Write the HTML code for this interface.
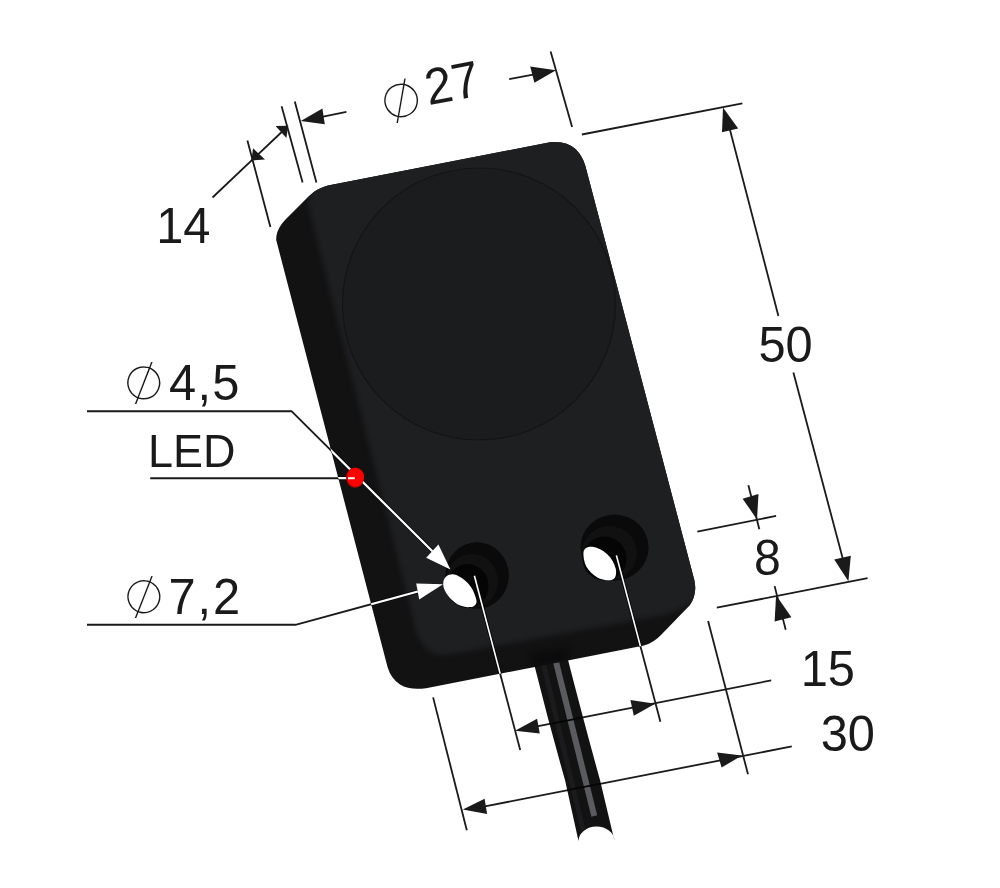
<!DOCTYPE html>
<html lang="en">
<head>
<meta charset="utf-8">
<title>Sensor dimensions</title>
<style>
html,body{margin:0;padding:0;background:#fff;}
body{width:1000px;height:888px;overflow:hidden;}
svg{display:block;}
text{font-family:"Liberation Sans",Arial,sans-serif;fill:#1a1a1a;}
text.dia{font-family:"DejaVu Sans","Liberation Sans",sans-serif;}
</style>
</head>
<body>
<svg width="1000" height="888" viewBox="0 0 1000 888">
<defs>
<path id="bodyshape" d="M276.2,240 Q276,232 281,225 Q283,222 286,219 L309,196 Q317,188.5 328,185.6 L550,142.3 Q566,140.5 575.5,149 Q582.5,156 585.4,166 L694.3,580 Q697.5,594 690,605 L661,635 Q654,642.5 644,645.6 L426,688.2 Q410,690.5 400,684.5 Q391,678.5 387.6,667.2 Z"/>
<clipPath id="bodyclip"><use href="#bodyshape"/></clipPath>
<clipPath id="cableclip"><path d="M534,664 L566.5,655 L568.3,661 Q585,726 600,780 L614.5,841 A18,14.6 0 0 0 578.5,841 L565,780 Q549,724 534.9,667.3 Z"/></clipPath>
<filter color-interpolation-filters="sRGB" id="soft" x="-10%" y="-10%" width="120%" height="120%"><feGaussianBlur stdDeviation="1.2"/></filter>
<filter color-interpolation-filters="sRGB" id="soft3" x="-30%" y="-30%" width="160%" height="160%"><feGaussianBlur stdDeviation="3"/></filter>
<filter color-interpolation-filters="sRGB" id="soft4" x="-10%" y="-10%" width="120%" height="120%"><feGaussianBlur stdDeviation="2.6"/></filter>
<filter color-interpolation-filters="sRGB" id="soft2" x="-20%" y="-20%" width="140%" height="140%"><feGaussianBlur stdDeviation="0.6"/></filter>
</defs>
<rect width="1000" height="888" fill="#ffffff"/>
<g id="dims">
<line x1="247.4" y1="140.4" x2="270.4" y2="227.0" stroke="#1a1a1a" stroke-width="1.8" />
<line x1="281.6" y1="106.2" x2="302.6" y2="182.5" stroke="#1a1a1a" stroke-width="1.8" />
<line x1="294.8" y1="101.4" x2="316.4" y2="182.5" stroke="#1a1a1a" stroke-width="1.8" />
<line x1="212.5" y1="197.5" x2="287.0" y2="127.0" stroke="#1a1a1a" stroke-width="1.8" />
<polygon points="251.5,160.4 265.0,159.6 253.0,148.2" fill="#1a1a1a"/>
<polygon points="288.2,125.8 275.6,126.0 286.4,138.0" fill="#1a1a1a"/>
<line x1="322.0" y1="116.8" x2="346.4" y2="111.8" stroke="#1a1a1a" stroke-width="1.8" />
<polygon points="300.8,121.0 322.4,108.6 324.8,124.2" fill="#1a1a1a"/>
<line x1="509.2" y1="79.2" x2="533.0" y2="74.6" stroke="#1a1a1a" stroke-width="1.8" />
<polygon points="556.0,70.2 530.2,66.6 534.4,82.8" fill="#1a1a1a"/>
<line x1="550.6" y1="51.4" x2="572.1" y2="127.1" stroke="#1a1a1a" stroke-width="1.8" />
<line x1="581.9" y1="134.5" x2="742.4" y2="103.4" stroke="#1a1a1a" stroke-width="1.8" />
<line x1="729.5" y1="128.0" x2="778.4" y2="316.0" stroke="#1a1a1a" stroke-width="1.8" />
<line x1="793.4" y1="372.6" x2="842.6" y2="558.0" stroke="#1a1a1a" stroke-width="1.8" />
<polygon points="723.0,107.4 722.0,132.2 738.2,128.6" fill="#1a1a1a"/>
<polygon points="848.4,581.2 834.2,559.6 850.8,555.8" fill="#1a1a1a"/>
<line x1="716.8" y1="607.7" x2="867.6" y2="578.2" stroke="#1a1a1a" stroke-width="1.8" />
<line x1="697.3" y1="531.6" x2="776.1" y2="515.9" stroke="#1a1a1a" stroke-width="1.8" />
<line x1="748.4" y1="485.3" x2="759.3" y2="529.3" stroke="#1a1a1a" stroke-width="1.8" />
<polygon points="757.0,519.4 742.6,498.7 758.5,493.9" fill="#1a1a1a"/>
<line x1="774.6" y1="586.1" x2="785.7" y2="629.7" stroke="#1a1a1a" stroke-width="1.8" />
<polygon points="776.1,595.3 774.6,621.5 791.4,617.3" fill="#1a1a1a"/>
<line x1="537.0" y1="726.3" x2="771.2" y2="680.4" stroke="#1a1a1a" stroke-width="1.8" />
<polygon points="515.0,730.8 537.1,718.8 539.8,733.5" fill="#1a1a1a"/>
<polygon points="655.2,703.8 630.4,700.0 633.8,715.7" fill="#1a1a1a"/>
<line x1="485.0" y1="806.4" x2="791.8" y2="746.4" stroke="#1a1a1a" stroke-width="1.8" />
<polygon points="462.8,809.4 484.6,798.8 487.1,814.1" fill="#1a1a1a"/>
<polygon points="741.9,755.6 717.1,752.4 721.6,767.5" fill="#1a1a1a"/>
<line x1="433.1" y1="697.4" x2="466.8" y2="830.3" stroke="#1a1a1a" stroke-width="1.8" />
<line x1="708.1" y1="621.1" x2="748.0" y2="774.3" stroke="#1a1a1a" stroke-width="1.8" />
<polyline points="87,411.2 291.5,411.2 432.4,551.2" fill="none" stroke="#1a1a1a" stroke-width="1.9"/>
<line x1="150.2" y1="478.2" x2="350.0" y2="478.2" stroke="#1a1a1a" stroke-width="1.9" />
<polyline points="87,624.8 295.5,624.8 417.8,591.5" fill="none" stroke="#1a1a1a" stroke-width="1.9"/>
<line x1="474.4" y1="575.8" x2="520.2" y2="749.9" stroke="#1a1a1a" stroke-width="1.8" />
<line x1="616.4" y1="555.4" x2="660.4" y2="721.8" stroke="#1a1a1a" stroke-width="1.8" />
</g>
<g id="cable">
<path d="M534,664 L566.5,655 L568.3,661 Q585,726 600,780 L614.5,841 A18,14.6 0 0 0 578.5,841 L565,780 Q549,724 534.9,667.3 Z" fill="#121213"/>
<path d="M543,662 L585,838" fill="none" stroke="#1b1b1d" stroke-width="5" filter="url(#soft2)" clip-path="url(#cableclip)"/>
<g clip-path="url(#cableclip)">
<path d="M554.9,657.5 L594.3,816" fill="none" stroke="#595b5f" stroke-width="6" filter="url(#soft2)"/>
<line x1="515" y1="730.8" x2="771.2" y2="680.4" stroke="#050505" stroke-width="1.7"/>
<line x1="485" y1="806.4" x2="791.8" y2="746.4" stroke="#050505" stroke-width="1.7"/>
</g>
</g>
<use href="#bodyshape" fill="#121213"/>
<g clip-path="url(#bodyclip)">
<path d="M307.5,203 L309.5,196 L314,180 L560,128 L600,150 L710,578 L700,596 Q690,607 664,615 L450,654.5 Q433,657 425.5,648 Q419,641 416.4,632 Z" fill="#1e1f21" filter="url(#soft4)"/>
<ellipse cx="479" cy="304" rx="136.5" ry="136" fill="#1b1c1e" stroke="#151517" stroke-width="1.2" filter="url(#soft2)"/>
<path d="M530,654 L568,646 L567,664 L535,670 Z" fill="#0b0b0c" opacity="0.8" filter="url(#soft3)"/>
<!-- holes -->
<g filter="url(#soft2)">
<ellipse cx="477" cy="575.5" rx="31.8" ry="33.2" fill="#0a0a0b"/>
<ellipse cx="472" cy="581" rx="26" ry="27" fill="#111112"/>
<ellipse cx="467.5" cy="586" rx="21" ry="22" fill="#050506"/>
<ellipse cx="614.6" cy="547.4" rx="34" ry="33" fill="#0a0a0b"/>
<ellipse cx="609.5" cy="553" rx="27.5" ry="27" fill="#111112"/>
<ellipse cx="604.5" cy="558.5" rx="22" ry="22" fill="#050506"/>
</g>
<path d="M443.2,584.2 C443.2,581 444,578.5 446.2,576.6 C448,574.8 450.5,574.1 452.8,574.2 C456,574.4 460.5,576.3 467.2,582.4 C471,586 474.5,592 476.2,599.2 C476.8,602 476.6,603.2 475.6,604.4 C474,606.3 472.5,606.8 470.8,607 C468,607.3 466,607.2 463.6,606.6 C460,605.7 457.5,604.6 455.2,602.8 C452,600.4 449.5,597.8 448,595.6 C445.5,592 443.2,588 443.2,584.2 Z" fill="#ffffff"/>
<path d="M583.4,553.5 C583.4,551 584.3,549.3 586,548 C587.8,546.8 590,546.6 592.4,546.8 C597,547.3 602,549.6 607,554 C611.5,558.2 614.5,563.5 615.8,569 C616.4,572.5 616.2,575.5 614.8,577.8 C613.6,579.4 612,580.1 610,580.3 C606,580.6 601.5,579.6 597,577.2 C592.5,574.6 588.8,570.8 586.3,566.5 C584.2,562.5 583.4,557.5 583.4,553.5 Z" fill="#ffffff"/>
<polyline points="87,411.2 291.5,411.2 432.4,551.2" fill="none" stroke="#070707" stroke-width="3.8"/>
<line x1="150.2" y1="478.2" x2="350.0" y2="478.2" stroke="#070707" stroke-width="3.8" />
<polyline points="87,624.8 295.5,624.8 417.8,591.5" fill="none" stroke="#070707" stroke-width="3.8"/>
<polyline points="87,411.2 291.5,411.2 432.4,551.2" fill="none" stroke="#ffffff" stroke-width="2.2"/>
<line x1="150.2" y1="478.2" x2="350.0" y2="478.2" stroke="#ffffff" stroke-width="2.2" />
<polyline points="87,624.8 295.5,624.8 417.8,591.5" fill="none" stroke="#ffffff" stroke-width="2.2"/>
<line x1="474.4" y1="575.8" x2="520.2" y2="749.9" stroke="#050505" stroke-width="3.4" />
<line x1="616.4" y1="555.4" x2="660.4" y2="721.8" stroke="#050505" stroke-width="3.4" />
<line x1="474.4" y1="575.8" x2="520.2" y2="749.9" stroke="#ffffff" stroke-width="1.6" />
<line x1="616.4" y1="555.4" x2="660.4" y2="721.8" stroke="#ffffff" stroke-width="1.6" />
<polygon points="450.4,569.4 426.2,557.8 438.4,544.6" fill="#ffffff"/>
<polygon points="443.0,584.2 416.2,583.6 419.2,599.4" fill="#ffffff"/>
</g>
<ellipse cx="355" cy="477.6" rx="9" ry="10.1" fill="#c80000"/>
<ellipse cx="355.8" cy="477.2" rx="8.2" ry="9.3" fill="#ff0000"/>
<line x1="348" y1="478.2" x2="354.8" y2="478.2" stroke="#ffffff" stroke-width="2"/>
<g id="labels" opacity="0.999">
<text transform="translate(156.2 243.4) scale(1 1.028)" font-size="48.8">14</text>
<text transform="translate(428.5 105.3) rotate(-10.7) scale(1 1.05)" font-size="48.8">27</text>
<text class="dia" transform="translate(401.2 100.5) rotate(-35.1) translate(-21.42 17.69)" font-size="71.2" stroke="#ffffff" stroke-width="3.40" paint-order="fill stroke">⌀</text>
<text transform="translate(758.4 361.8) scale(1 1.028)" font-size="48.8">50</text>
<text class="dia" transform="translate(143.75 383) rotate(-23.8) translate(-21.03 17.36)" font-size="69.9" stroke="#ffffff" stroke-width="3.31" paint-order="fill stroke">⌀</text>
<text transform="translate(169 400.4) scale(1 1.028)" font-size="48.8" letter-spacing="1.25">4,5</text>
<text transform="translate(148 467.3) scale(1 1.015)" font-size="45">LED</text>
<text class="dia" transform="translate(143.75 596.75) rotate(-23.5) translate(-21.03 17.36)" font-size="69.9" stroke="#ffffff" stroke-width="3.31" paint-order="fill stroke">⌀</text>
<text transform="translate(168.6 613.9) scale(1 1.028)" font-size="48.8" letter-spacing="1.85">7,2</text>
<text transform="translate(753.9 574.7) scale(1 1.028)" font-size="48.2">8</text>
<text transform="translate(800.7 685.7) scale(1 1.028)" font-size="48.8">15</text>
<text transform="translate(820.7 751.1) scale(1 1.028)" font-size="48.8">30</text>
</g>
</svg>
</body>
</html>
